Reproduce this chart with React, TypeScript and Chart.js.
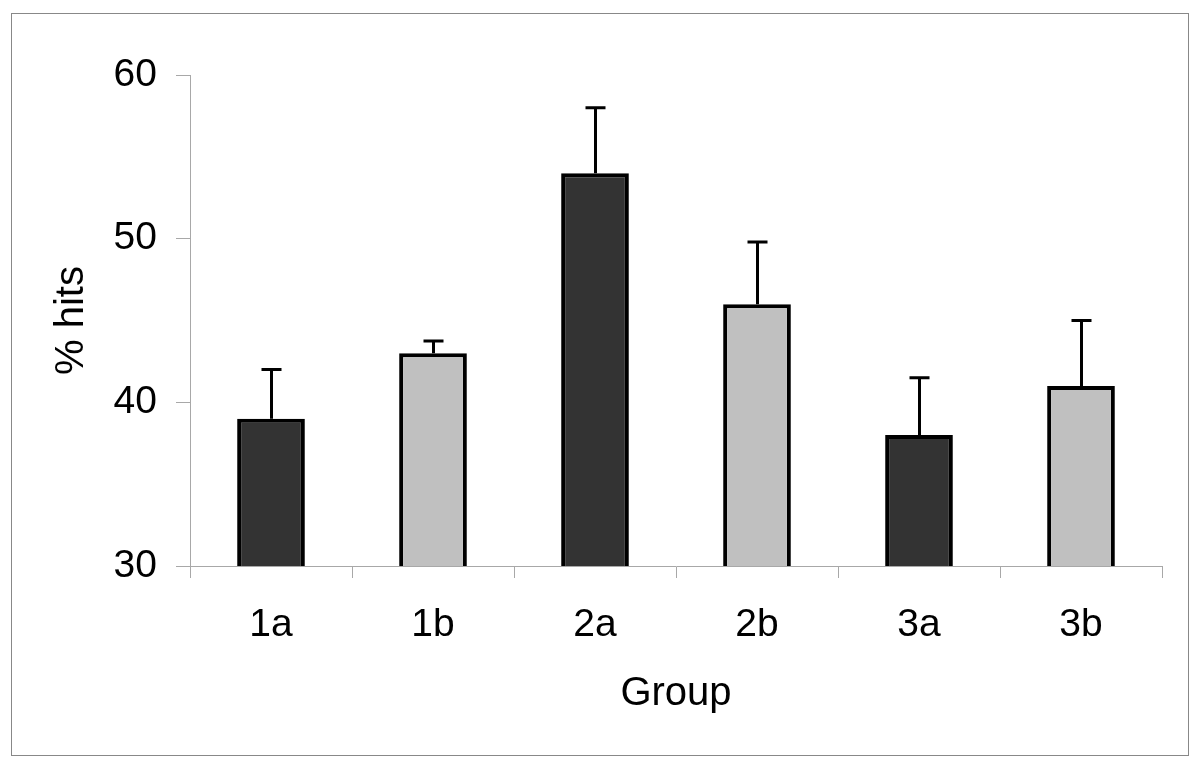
import React, { useEffect, useRef } from "react";
import { Chart, registerables } from "chart.js";

Chart.register(...registerables);

const categories = ["1a", "1b", "2a", "2b", "3a", "3b"];
const meanValues = [39, 43, 54, 46, 38, 41];
const errorTops = [42, 43.75, 58, 49.8, 41.5, 45];
const barColors = ["#333333", "#c0c0c0", "#333333", "#c0c0c0", "#333333", "#c0c0c0"];
const yTickValues = [30, 40, 50, 60];

const FONT = "'Liberation Sans', Arial, Helvetica, sans-serif";

const framePlugin = {
  id: "frame",
  beforeDraw(chart: any) {
    const ctx = chart.ctx;
    ctx.save();
    ctx.fillStyle = "#ffffff";
    ctx.fillRect(0, 0, chart.width, chart.height);
    ctx.strokeStyle = "#888888";
    ctx.lineWidth = 1;
    ctx.strokeRect(11.5, 13.5, 1177, 742);
    ctx.restore();
  },
};

const errorBarPlugin = {
  id: "errorBars",
  afterDatasetsDraw(chart: any) {
    const ctx = chart.ctx;
    const meta = chart.getDatasetMeta(0);
    const y = chart.scales.y;
    ctx.save();
    ctx.strokeStyle = "#000000";
    ctx.lineWidth = 3;
    ctx.lineCap = "butt";
    meta.data.forEach((bar: any, i: number) => {
      const x = Math.round(bar.x) + 0.5;
      const yv = y.getPixelForValue(meanValues[i]);
      const ye = y.getPixelForValue(errorTops[i]);
      ctx.beginPath();
      ctx.moveTo(x, yv);
      ctx.lineTo(x, ye);
      ctx.moveTo(x - 10, ye);
      ctx.lineTo(x + 10, ye);
      ctx.stroke();
    });
    ctx.restore();
  },
};

export default function App() {
  const ref = useRef<HTMLCanvasElement>(null);
  useEffect(() => {
    if (!ref.current) return;
    const chart = new Chart(ref.current, {
      type: "bar",
      data: {
        labels: categories,
        datasets: [
          {
            data: meanValues,
            backgroundColor: barColors,
            borderColor: "#000000",
            borderWidth: 4,
            borderSkipped: false,
            categoryPercentage: 1,
            barPercentage: 0.418,
          },
        ],
      },
      options: {
        animation: false,
        responsive: false,
        devicePixelRatio: 1,
        layout: { padding: { left: 0, right: 35, top: 75, bottom: 0 } },
        plugins: { legend: { display: false }, tooltip: { enabled: false } },
        scales: {
          x: {
            grid: {
              offset: true,
              drawOnChartArea: false,
              drawTicks: true,
              tickLength: 12,
              color: "#a8a8a8",
              lineWidth: 1,
            },
            border: { display: true, color: "#a8a8a8", width: 1 },
            ticks: {
              color: "#000000",
              font: { family: FONT, size: 39 },
              padding: 24,
              maxRotation: 0,
            },
            title: {
              display: true,
              text: "Group",
              color: "#000000",
              font: { family: FONT, size: 40 },
              padding: { top: 0, bottom: 50 },
            },
            afterFit(scale: any) {
              scale.height = 202;
            },
          },
          y: {
            min: 30,
            max: 60,
            afterBuildTicks(scale: any) {
              scale.ticks = yTickValues.map((v) => ({ value: v }));
            },
            grid: {
              drawOnChartArea: false,
              drawTicks: true,
              tickLength: 14,
              color: "#a8a8a8",
              lineWidth: 1,
            },
            border: { display: true, color: "#a8a8a8", width: 1 },
            ticks: {
              color: "#000000",
              font: { family: FONT, size: 39 },
              padding: 19,
            },
            title: {
              display: true,
              text: "% hits",
              color: "#000000",
              font: { family: FONT, size: 40 },
              padding: { top: 48, bottom: 0 },
            },
            afterFit(scale: any) {
              scale.width = 190;
            },
          },
        },
      },
      plugins: [framePlugin, errorBarPlugin],
    });
    return () => chart.destroy();
  }, []);
  return (
    <div style={{ position: "fixed", left: 0, top: 0, width: 1197, height: 768, background: "#fff" }}>
      <canvas ref={ref} width={1197} height={768} style={{ display: "block", width: 1197, height: 768 }} />
    </div>
  );
}
